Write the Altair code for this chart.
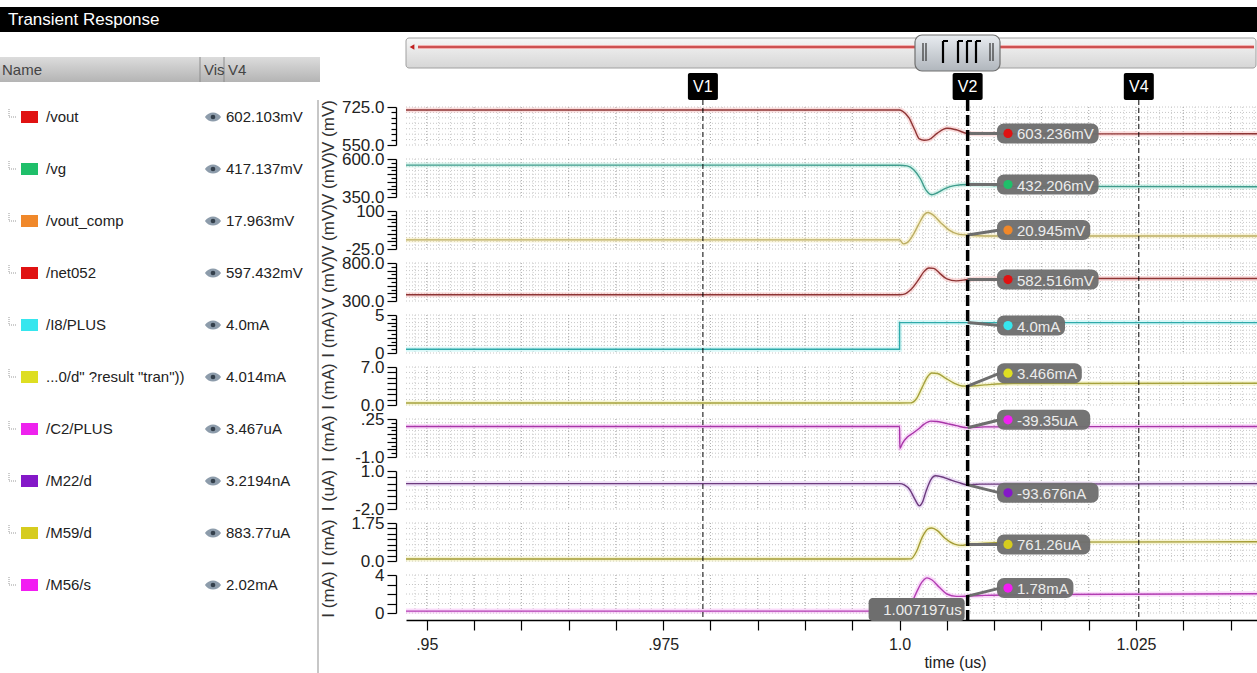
import json
import pandas as pd
import altair as alt

FONT = "Liberation Sans, Arial, Helvetica, sans-serif"

# ------------------------------------------------------------------ data
NAMES = ["/vout", "/vg", "/vout_comp", "/net052", "/I8/PLUS",
         '...0/d" ?result "tran"))', "/C2/PLUS", "/M22/d", "/M59/d", "/M56/s"]
V4_TEXT = ["602.103mV", "417.137mV", "17.963mV", "597.432mV", "4.0mA",
           "4.014mA", "3.467uA", "3.2194nA", "883.77uA", "2.02mA"]
Y_TITLES = ["V (mV)", "V (mV)", "V (mV)", "V (mV)", "I (mA)",
            "I (mA)", "I (mA)", "I (uA)", "I (mA)", "I (mA)"]
Y_LO = [550, 350, -25, 300, 0, 0, -1.0, -2.0, 0, 0]
Y_HI = [725, 600, 100, 800, 5, 7, 0.25, 1.0, 1.75, 4]
TOP_LABELS = ["725.0", "600.0", "100", "800.0", "5", "7.0", ".25", "1.0", "1.75", "4"]
BOT_LABELS = ["550.0", "350.0", "-25.0", "300.0", "0", "0.0", "-1.0", "-2.0", "0.0", "0"]
V2_VALUES = [603.236, 432.206, 20.945, 582.516, 4.0, 3.466, -0.03935, -0.093676, 0.76126, 1.78]
V2_TEXT = ["603.236mV", "432.206mV", "20.945mV", "582.516mV", "4.0mA",
           "3.466mA", "-39.35uA", "-93.676nA", "761.26uA", "1.78mA"]
CURSOR_NAMES = ["V1", "V2", "V4"]
CURSOR_T = [0.9792, 1.007197, 1.0253]
CURSOR_LABEL = "1.007197us"
X_LABEL_VALUES = [0.95, 0.975, 1.0, 1.025]
X_LABEL_TEXT = [".95", ".975", "1.0", "1.025"]

T_VOUT = [0.9478, 1.0, 1.0003, 1.0010, 1.0016, 1.0021, 1.0026, 1.0031, 1.0040, 1.0050, 1.0060, 1.0072, 1.0090, 1.0378]
V_VOUT = [711, 711, 706, 675, 620, 578, 572, 575, 605, 627, 620, 603, 601, 602]
T_VG = [0.9478, 1.0, 1.0008, 1.0015, 1.0022, 1.0028, 1.0034, 1.0040, 1.0048, 1.0058, 1.0072, 1.0090, 1.0120, 1.0378]
V_VG = [560, 559, 555, 530, 470, 395, 365, 378, 405, 425, 432, 428, 420, 417]
T_VCOMP = [0.9478, 1.0, 1.0004, 1.0008, 1.0014, 1.0020, 1.0026, 1.0030, 1.0035, 1.0044, 1.0052, 1.0062, 1.0072, 1.0090, 1.0378]
V_VCOMP = [5, 5, -8, -4, 20, 55, 88, 95, 88, 60, 38, 24, 21, 18, 18]
T_NET = [0.9478, 1.0, 1.0005, 1.0012, 1.0020, 1.0026, 1.0031, 1.0036, 1.0042, 1.0050, 1.0060, 1.0072, 1.0090, 1.0378]
V_NET = [383, 383, 390, 450, 580, 690, 735, 730, 670, 590, 565, 582, 592, 597]
T_I8 = [0.9478, 1.0, 1.0, 1.0378]
V_I8 = [0.5, 0.5, 4.0, 4.0]
T_M0 = [0.9478, 1.0, 1.0012, 1.0018, 1.0024, 1.0030, 1.0034, 1.0040, 1.0048, 1.0058, 1.0066, 1.0072, 1.0090, 1.0120, 1.0378]
V_M0 = [0.37, 0.37, 0.40, 1.2, 3.3, 5.3, 5.9, 5.8, 5.0, 4.0, 3.5, 3.47, 3.7, 3.95, 4.01]
T_C2 = [0.9478, 1.0, 1.00003, 1.0003, 1.0008, 1.0014, 1.0020, 1.0026, 1.0033, 1.0040, 1.0050, 1.0060, 1.0072, 1.0090, 1.0378]
V_C2 = [0.0035, 0.0035, -0.72, -0.55, -0.35, -0.22, -0.08, 0.08, 0.18, 0.17, 0.10, 0.03, -0.039, -0.01, 0.0035]
T_M22 = [0.9478, 1.0, 1.0005, 1.0011, 1.0016, 1.0021, 1.0024, 1.0028, 1.0033, 1.0038, 1.0044, 1.0052, 1.0062, 1.0072, 1.0085, 1.0378]
V_M22 = [0.003, 0.003, -0.1, -0.5, -1.2, -1.75, -1.5, -0.6, 0.3, 0.62, 0.55, 0.35, 0.1, -0.094, -0.04, 0.003]
T_M59 = [0.9478, 1.0, 1.0012, 1.0018, 1.0024, 1.0030, 1.0034, 1.0040, 1.0048, 1.0058, 1.0066, 1.0072, 1.0090, 1.0130, 1.0378]
V_M59 = [0.09, 0.09, 0.10, 0.45, 1.1, 1.48, 1.52, 1.40, 1.05, 0.78, 0.72, 0.761, 0.82, 0.87, 0.884]
T_M56 = [0.9478, 1.0, 1.0006, 1.0012, 1.0018, 1.0024, 1.0029, 1.0034, 1.0042, 1.0050, 1.0060, 1.0072, 1.0090, 1.0150, 1.0378]
V_M56 = [0.2, 0.2, 0.3, 0.9, 2.2, 3.3, 3.7, 3.5, 2.7, 2.0, 1.75, 1.78, 1.85, 1.95, 2.02]

TRACE_T = [T_VOUT, T_VG, T_VCOMP, T_NET, T_I8, T_M0, T_C2, T_M22, T_M59, T_M56]
TRACE_V = [V_VOUT, V_VG, V_VCOMP, V_NET, V_I8, V_M0, V_C2, V_M22, V_M59, V_M56]

# ------------------------------------------------------------------ style
SWATCH = ["#e01212", "#1fbf6a", "#f0882a", "#e01212", "#36e6ee",
          "#dede22", "#ee22ee", "#8418c8", "#d6cc1e", "#f21cf2"]
LINE_COLORS = ["#8e3434", "#3e9c8c", "#bcae62", "#8e3434", "#2eaaaa",
               "#a6a23c", "#a834a8", "#6c3a7e", "#a49c34", "#b23cb2"]
HALO = ["#f4b4b4", "#a8e6d8", "#f2e4a6", "#f4b4b4", "#aaf0f0",
        "#eeeaa0", "#f4b0f4", "#d8b8ec", "#eee8a0", "#f4b0f4"]
TICK_STEP = [25, 25, 12.5, 50, 0.5, 1, 0.125, 0.5, 0.25, 1]
MAJOR_STEP = [None, 50, 25, 100, 1, 1, 0.25, 0.5, 0.25, 1]
BOX_DY = [0, 0, -5, 0, 3, -13, -8, 8, 0, -8]

W, H, GAP = 851, 38, 14
XS = alt.Scale(domain=[0.9478, 1.0378], nice=False, zero=False)
GRID_MINOR = [round(0.94875 + 0.00125 * k, 6) for k in range(72)]
GRID_MAJOR = [round(0.95 + 0.005 * k, 6) for k in range(18)]
ONE = pd.DataFrame({"k": [0]})

x_label_expr = "".join(
    f"abs(datum.value - {v}) < 1e-9 ? '{s}' : " for v, s in zip(X_LABEL_VALUES, X_LABEL_TEXT)
) + "''"
X_AXIS = alt.Axis(values=GRID_MAJOR, labelExpr=x_label_expr, tickSize=10, tickColor="black",
                  tickWidth=1.2, domainColor="black", domainWidth=1.6, offset=7,
                  labelFont=FONT, labelFontSize=16, labelColor="#222", labelPadding=6,
                  labelOverlap=False, labelFlush=False, grid=False,
                  title="time (us)", titleFont=FONT, titleFontSize=16,
                  titleFontWeight="normal", titleColor="#222", titleX=549, titleY=42,
                  titleBaseline="middle", titleAlign="center")


def xenc(bottom):
    return alt.X("t:Q", scale=XS, axis=X_AXIS if bottom else None)


def ticks_of(i):
    lo, hi, st = Y_LO[i], Y_HI[i], TICK_STEP[i]
    n = int(round((hi - lo) / st))
    return [round(lo + k * st, 6) for k in range(n + 1)]


def yenc(i):
    lo, hi = Y_LO[i], Y_HI[i]
    vals = ticks_of(i)
    ms = MAJOR_STEP[i]
    if ms is None:
        majors = [vals[0], vals[-1]]
    else:
        majors = [v for v in vals if abs((v - lo) / ms - round((v - lo) / ms)) < 1e-6]
    expr = (f"abs(datum.value - {hi}) < 1e-9 ? '{TOP_LABELS[i]}' : "
            f"(abs(datum.value - {lo}) < 1e-9 ? '{BOT_LABELS[i]}' : '')")
    ax = alt.Axis(values=vals, labelExpr=expr,
                  tickSize={"condition": {"test": f"indexof({json.dumps(majors)}, datum.value) >= 0",
                                          "value": 9}, "value": 5},
                  tickColor="black", tickWidth=1.2, domainColor="black", domainWidth=1.3,
                  offset=10, labelFont=FONT, labelFontSize=17, labelColor="#222",
                  labelPadding=3, labelOverlap=False, labelFlush=False, grid=False,
                  title=Y_TITLES[i], titleFont=FONT, titleFontSize=17, titleFontWeight="normal",
                  titleColor="#333", titleAngle=270, titleX=-59, titleY=H / 2,
                  titleBaseline="bottom", titleAlign="center")
    return alt.Y("v:Q", scale=alt.Scale(domain=[lo, hi], nice=False, zero=False), axis=ax)


def d_rect(x, x2, y, y2, **kw):
    return alt.Chart(ONE).mark_rect(**kw).encode(
        x=alt.value(x), x2=alt.value(x2), y=alt.value(y), y2=alt.value(y2))


def d_rule(x, x2, y, y2, **kw):
    return alt.Chart(ONE).mark_rule(**kw).encode(
        x=alt.value(x), x2=alt.value(x2), y=alt.value(y), y2=alt.value(y2))


def d_text(x, y, text, **kw):
    return alt.Chart(ONE).mark_text(text=text, font=FONT, **kw).encode(
        x=alt.value(x), y=alt.value(y))


def grad(c1, c2):
    return alt.Gradient(gradient="linear",
                        stops=[alt.GradientStop(color=c1, offset=0),
                               alt.GradientStop(color=c2, offset=1)],
                        x1=0, x2=0, y1=0, y2=1)


EYE = "M -1 0 C -0.5 -0.75 0.5 -0.75 1 0 C 0.5 0.75 -0.5 0.75 -1 0 Z"


def strip(i):
    bottom = i == 9
    X = xenc(bottom)
    Y = yenc(i)
    layers = []

    if i == 0:
        layers += [
            d_rect(-406, 851, -100, -75, fill="black"),
            d_text(-398, -87, "Transient Response", color="white", fontSize=17,
                   align="left", baseline="middle"),
            d_rect(-406, -86, -50, -25, fill=grad("#dcdcdc", "#b4b4b4")),
            d_rule(-206, -206, -50, -25, color="#8c8c8c", strokeWidth=1),
            d_rule(-182, -182, -50, -25, color="#8c8c8c", strokeWidth=1),
            d_text(-404, -37, "Name", color="#444", fontSize=15, align="left", baseline="middle"),
            d_text(-202, -37, "Vis", color="#444", fontSize=15, align="left", baseline="middle"),
            d_text(-178, -37, "V4", color="#444", fontSize=15, align="left", baseline="middle"),
            d_rule(-88, -88, -7, 566, color="#b4b4b4", strokeWidth=1.5),
            # scrollbar
            d_rect(0, 850, -69, -39, fill=grad("#f6f6f6", "#d6d6d6"), stroke="#a0a0a0",
                   strokeWidth=1, cornerRadius=3),
            d_rule(12, 848, -60, -60, color="#f2b0b0", strokeWidth=4),
            d_rule(12, 848, -60, -60, color="#c03232", strokeWidth=1.3),
            alt.Chart(ONE).mark_point(shape="triangle-left", filled=True, color="#c02020",
                                      size=30, opacity=1).encode(x=alt.value(6), y=alt.value(-60)),
            d_rect(509, 594, -72, -36, fill=grad("#e8ecf0", "#b0b6bc"), stroke="#707070",
                   strokeWidth=1.2, cornerRadius=7),
        ]
        for xx in [517, 520, 584, 587]:
            layers.append(d_rule(xx, xx, -64, -46, color="#333", strokeWidth=1.2))
        for xx in [537, 552, 561, 570]:
            layers.append(d_rule(xx, xx, -66, -44, color="black", strokeWidth=2.2))
            layers.append(d_rule(xx, xx + 5, -66, -66, color="black", strokeWidth=2))
        tdf = pd.DataFrame({"t": CURSOR_T, "name": CURSOR_NAMES})
        layers += [
            alt.Chart(tdf).mark_rect(color="black", cornerRadius=2, xOffset=-15, x2Offset=15).encode(
                x=X, x2=alt.X2("t"), y=alt.value(-34), y2=alt.value(-7)),
            alt.Chart(tdf).mark_text(color="white", font=FONT, fontSize=16, baseline="middle").encode(
                x=X, y=alt.value(-20), text="name:N"),
        ]

    # left table row
    layers += [
        d_rule(-397, -397, 2, 10, color="#999", strokeWidth=1, strokeDash=[1, 1]),
        d_rule(-397, -389, 10, 10, color="#999", strokeWidth=1, strokeDash=[1, 1]),
        d_rect(-385, -368, 4, 16, fill=SWATCH[i]),
        d_text(-360, 10, NAMES[i], color="#222", fontSize=15, align="left", baseline="middle"),
        alt.Chart(ONE).mark_point(shape=EYE, filled=True, color="#8d9cab", size=260, opacity=1).encode(
            x=alt.value(-193), y=alt.value(10)),
        alt.Chart(ONE).mark_circle(color="#34404c", size=22, opacity=1).encode(
            x=alt.value(-193), y=alt.value(10)),
        d_text(-180, 10, V4_TEXT[i], color="#222", fontSize=15, align="left", baseline="middle"),
    ]

    # grid
    layers += [
        alt.Chart(pd.DataFrame({"v": ticks_of(i)})).mark_rule(
            color="#c6c6c6", strokeWidth=1, strokeDash=[1, 2]).encode(
            y=Y, x=alt.value(0), x2=alt.value(W)),
        alt.Chart(pd.DataFrame({"t": GRID_MINOR})).mark_rule(
            color="#cdcdcd", strokeWidth=1, strokeDash=[1, 2]).encode(
            x=X, y=alt.value(0), y2=alt.value(H)),
        alt.Chart(pd.DataFrame({"t": GRID_MAJOR})).mark_rule(
            color="#b0b0b0", strokeWidth=1, strokeDash=[1, 2]).encode(
            x=X, y=alt.value(0), y2=alt.value(H)),
    ]

    # trace
    df = pd.DataFrame({"t": TRACE_T[i], "v": TRACE_V[i], "o": list(range(len(TRACE_T[i])))})
    interp = "linear" if i == 4 else "monotone"
    layers += [
        alt.Chart(df).mark_line(color=HALO[i], strokeWidth=5, opacity=0.45, interpolate=interp).encode(
            x=X, y=Y, order="o:Q"),
        alt.Chart(df).mark_line(color=LINE_COLORS[i], strokeWidth=1.4, interpolate=interp).encode(
            x=X, y=Y, order="o:Q"),
    ]

    # marker at V2
    mdf = pd.DataFrame({"t": [CURSOR_T[1]], "v": [V2_VALUES[i]], "label": [V2_TEXT[i]]})
    dy = BOX_DY[i]
    w = 26 + 8.4 * len(V2_TEXT[i])
    layers += [
        alt.Chart(mdf).mark_rule(color="#6e6e6e", strokeWidth=3, y2Offset=dy).encode(
            x=X, x2=alt.value(594), y=Y, y2=alt.Y2("v")),
        alt.Chart(mdf).mark_rect(color="#6e6e6e", opacity=0.96, cornerRadius=7,
                                 yOffset=dy - 10, y2Offset=dy + 10).encode(
            x=alt.value(591), x2=alt.value(591 + w), y=Y, y2=alt.Y2("v")),
        alt.Chart(mdf).mark_circle(color=SWATCH[i], size=85, opacity=1, yOffset=dy).encode(
            x=alt.value(602), y=Y),
        alt.Chart(mdf).mark_text(align="left", baseline="middle", font=FONT, fontSize=15,
                                 color="#ececec", yOffset=dy + 1).encode(
            x=alt.value(611), y=Y, text="label:N"),
    ]

    if bottom:
        c1 = pd.DataFrame({"t": [CURSOR_T[0], CURSOR_T[2]]})
        c2 = pd.DataFrame({"t": [CURSOR_T[1]], "label": [CURSOR_LABEL]})
        top = -(107 + 52 * 9) + 100
        layers += [
            alt.Chart(c1).mark_rule(color="black", strokeWidth=1, strokeDash=[5, 3]).encode(
                x=X, y=alt.value(top), y2=alt.value(45)),
            alt.Chart(c2).mark_rule(color="black", strokeWidth=3.5, strokeDash=[11, 4]).encode(
                x=X, y=alt.value(top), y2=alt.value(45)),
            alt.Chart(c2).mark_rect(color="#6e6e6e", cornerRadius=4, xOffset=-99, x2Offset=-3).encode(
                x=X, x2=alt.X2("t"), y=alt.value(23), y2=alt.value(46)),
            alt.Chart(c2).mark_text(align="right", baseline="middle", font=FONT, fontSize=15,
                                    color="#ececec", dx=-6).encode(
                x=X, y=alt.value(35), text="label:N"),
        ]

    return alt.layer(*layers).properties(width=W, height=H)


chart = alt.vconcat(*[strip(i) for i in range(10)], spacing=GAP, bounds="flush").properties(
    autosize=alt.AutoSizeParams(type="none"),
    padding={"left": 406, "top": 107, "right": 0, "bottom": 566},
    background="white",
).configure_view(strokeWidth=0)

chart.save("out.html", embed_options={"renderer": "svg", "actions": False})
